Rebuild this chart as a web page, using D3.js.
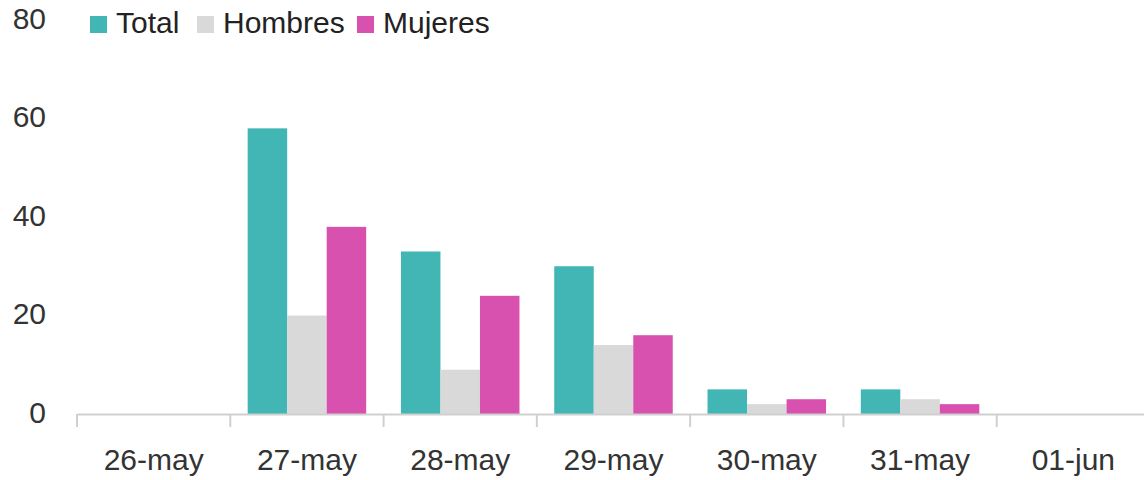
<!DOCTYPE html>
<html><head><meta charset="utf-8">
<script src="https://cdn.jsdelivr.net/npm/d3@7"></script>
<style>body{margin:0;background:#fff;} text{font-family:"Liberation Sans",Arial,sans-serif;}</style>
</head><body>
<svg id="c" width="1144" height="480"></svg>
<script>
const categories = ["26-may","27-may","28-may","29-may","30-may","31-may","01-jun"];
const seriesNames = ["Total","Hombres","Mujeres"];
const total   = [0, 58, 33, 30, 5, 5, 0];
const hombres = [0, 20, 9, 14, 2, 3, 0];
const mujeres = [0, 38, 24, 16, 3, 2, 0];
const yTicks = [0, 20, 40, 60, 80];
const colors = ["#41b6b4", "#d9d9d9", "#d851ae"];

const values = [total, hombres, mujeres];
const svg = d3.select("#c");
const x = d3.scaleBand().domain(categories).range([77, 1150]).paddingInner(0).paddingOuter(0);
const xs = d3.scaleBand().domain(seriesNames).range([0, x.bandwidth()]).paddingInner(0).paddingOuter(0.44);
const y = d3.scaleLinear().domain([0, 80]).range([414, 20]);

// bars
seriesNames.forEach((s, si) => {
  svg.append("g").selectAll("rect").data(categories).join("rect")
    .attr("x", (c) => x(c) + xs(s))
    .attr("width", xs.bandwidth())
    .attr("y", (c, i) => y(values[si][i]))
    .attr("height", (c, i) => y(0) - y(values[si][i]))
    .attr("fill", colors[si]);
});

// x axis
const xAxis = svg.append("g").attr("transform", "translate(0,414)")
  .call(d3.axisBottom(x).tickSize(0).tickPadding(0));
xAxis.select(".domain").attr("stroke", "#d0d0d0").attr("stroke-width", 2);
xAxis.selectAll(".tick text").attr("font-size", 30).attr("fill", "#333").attr("dy", 0).attr("y", 56);
xAxis.selectAll(".tick line").remove();
xAxis.selectAll(".sep").data(categories).join("line")
  .attr("x1", c => x(c)).attr("x2", c => x(c))
  .attr("y1", 0).attr("y2", 13)
  .attr("stroke", "#d0d0d0").attr("stroke-width", 2);

// y axis
const yAxis = svg.append("g").attr("transform", "translate(46,0)")
  .call(d3.axisLeft(y).tickValues(yTicks).tickSize(0).tickPadding(0));
yAxis.select(".domain").remove();
yAxis.selectAll(".tick text").attr("font-size", 30).attr("fill", "#333").attr("dy", "0.28em");

// legend
const lg = svg.append("g");
const legX = [90, 197, 357];
seriesNames.forEach((s, i) => {
  lg.append("rect").attr("x", legX[i]).attr("y", 16).attr("width", 17).attr("height", 17).attr("fill", colors[i]);
  lg.append("text").attr("x", legX[i] + 26).attr("y", 33).attr("font-size", 30).attr("fill", "#222").text(s);
});
</script>
</body></html>
